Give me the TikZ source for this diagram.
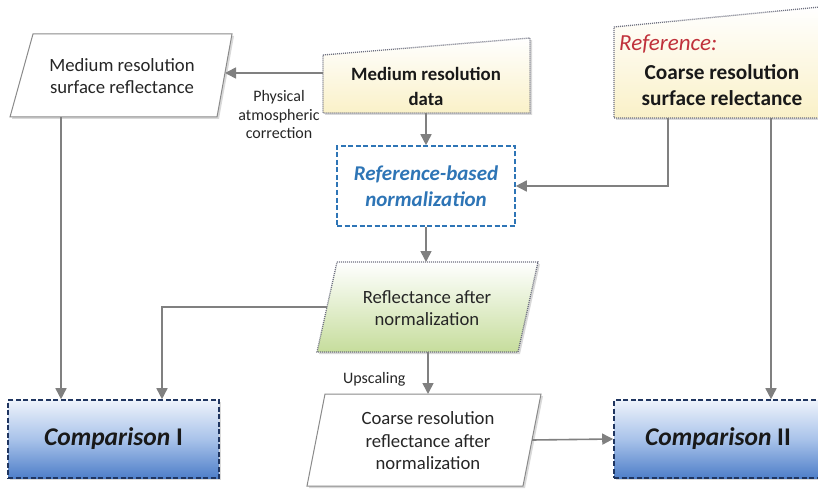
\documentclass[tikz,border=0pt]{standalone}
\usepackage{fontspec}
\setmainfont{Carlito}
\usetikzlibrary{arrows.meta,shadows}
\definecolor{conngrey}{HTML}{808080}
\definecolor{edgegrey}{HTML}{8A8A8A}
\definecolor{dotgrey}{HTML}{6E7080}
\definecolor{paleyellow}{HTML}{FAF1C8}
\definecolor{palegreen}{HTML}{C6DD9C}
\definecolor{normblue}{HTML}{2E75B6}
\definecolor{navy}{HTML}{1F3560}
\definecolor{cmptop}{HTML}{EEF3FB}
\definecolor{cmpmid}{HTML}{A9C3EA}
\definecolor{cmpbot}{HTML}{4F7FC9}
\definecolor{refred}{HTML}{C0313B}
\definecolor{darktext}{HTML}{262626}
\tikzset{
  conn/.style={draw=conngrey, line width=1.6pt, -{Triangle[length=11pt,width=11pt]}},
  softshadow/.style={drop shadow={shadow xshift=2pt, shadow yshift=-2pt, opacity=0.25, fill=black!60}},
  solidshape/.style={draw=edgegrey, line width=1pt, fill=white, softshadow},
  dotshape/.style={draw=dotgrey, line width=1.3pt, dash pattern=on 1pt off 1pt, softshadow},
  cmpbox/.style={draw=navy, line width=1.6pt, dash pattern=on 5pt off 2.5pt,
    minimum height=78pt, softshadow, top color=cmptop, bottom color=cmpbot, middle color=cmpmid,
    font=\fontsize{25.5}{28}\selectfont\bfseries, text=black!90},
  bodytext/.style={align=center, font=\fontsize{18.7}{22.5}\selectfont, text=darktext},
  boldtext/.style={align=center, font=\fontsize{18.8}{25}\selectfont\bfseries, text=black!90},
  smalltext/.style={align=center, font=\fontsize{16}{18.5}\selectfont, text=darktext},
}
\begin{document}
\begin{tikzpicture}[x=1pt,y=-1pt]
\useasboundingbox (0,0) rectangle (818,489);
\clip (0,0) rectangle (818,489);

% --- medium resolution surface reflectance (parallelogram)
\path[solidshape] (33,34) -- (232,34) -- (217,117) -- (10,117) -- cycle;
\node[bodytext] (msr) at (122,76) {Medium resolution\\surface reflectance};
\coordinate (msrE) at (225,73);
\coordinate (msrS) at (61,117);

% --- medium resolution data (manual input)
\path[dotshape, top color=white, bottom color=paleyellow] (323,55) -- (530,38) -- (530,113) -- (323,113) -- cycle;
\node[boldtext] (data) at (426,86) {Medium resolution\\data};
\coordinate (dataW) at (323,73);
\coordinate (dataS) at (426,113);

% --- reference coarse resolution (manual input, runs off the right edge)
\path[dotshape, top color=white, bottom color=paleyellow] (614,27) -- (830,6) -- (830,118) -- (614,118) -- cycle;
\node[anchor=west, font=\fontsize{23}{26}\selectfont\itshape, text=refred, inner sep=0pt] (reflbl) at (619,44) {Reference:};
\node[boldtext, font=\fontsize{21.3}{25.5}\selectfont\bfseries] (ref) at (722,85) {Coarse resolution\\surface relectance};
\coordinate (refS1) at (668,118);
\coordinate (refS2) at (771,118);

% --- reference-based normalization
\node[draw=normblue, line width=1.6pt, dash pattern=on 5pt off 2.5pt, fill=white,
      minimum width=178pt, minimum height=80pt, align=center,
      font=\fontsize{21}{26.5}\selectfont\bfseries\itshape, text=normblue] (norm) at (426,186)
      {Reference-based\\normalization};

% --- reflectance after normalization (parallelogram)
\path[dotshape, top color=white, bottom color=palegreen] (337,262) -- (538,262) -- (518,352) -- (317,352) -- cycle;
\node[bodytext] (ran) at (427,308) {Reflectance after\\normalization};
\coordinate (ranN) at (426,262);
\coordinate (ranW) at (327,307);
\coordinate (ranS) at (428,352);

% --- coarse resolution reflectance after normalization (parallelogram)
\path[solidshape] (325,394) -- (541,394) -- (523,486) -- (307,486) -- cycle;
\node[bodytext] (crn) at (428,441) {Coarse resolution\\reflectance after\\normalization};
\coordinate (crnN) at (428,394);
\coordinate (crnE) at (532,440);

% --- comparison boxes
\node[cmpbox, minimum width=211pt] (cmp1) at (113.5,439) {\textit{Comparison} I};
\node[cmpbox, minimum width=208pt] (cmp2) at (718,439) {\textit{Comparison} II};

% --- connectors
\draw[conn] (dataW) -- (msrE);
\node[smalltext] (physlbl) at (279,115) {Physical\\atmospheric\\correction};
\draw[conn] (dataS) -- (norm.north);
\draw[conn] (refS1) |- (norm.east);
\draw[conn] (norm.south) -- (ranN);
\draw[conn] (ranW) -| (cmp1.north -| 162,0);
\draw[conn] (msrS) -- (cmp1.north -| msrS);
\draw[conn] (ranS) -- (crnN);
\node[smalltext, anchor=east] (uplbl) at (409,379) {Upscaling};
\draw[conn] (crnE) -- (cmp2.west);
\draw[conn] (refS2) -- (cmp2.north -| refS2);
\end{tikzpicture}
\end{document}
